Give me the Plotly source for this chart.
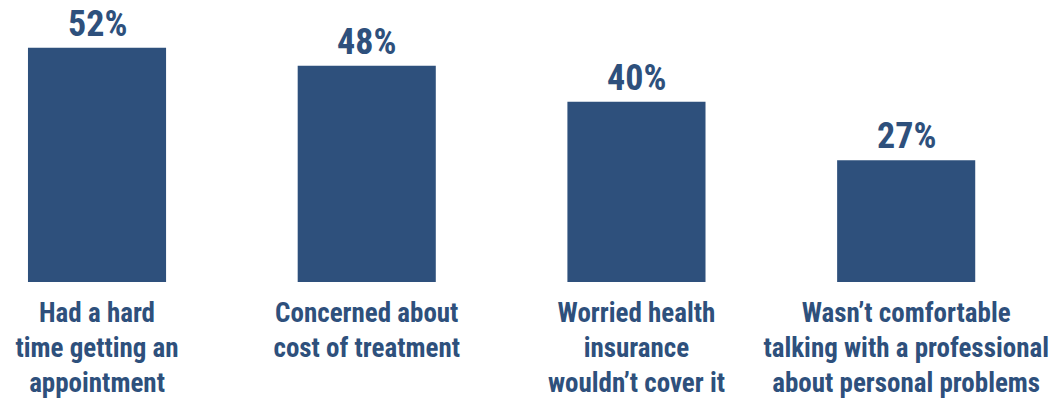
import plotly.graph_objects as go

# Survey results: reasons for not getting mental health care
categories = [
    "Had a hard<br>time getting an<br>appointment",
    "Concerned about<br>cost of treatment",
    "Worried health<br>insurance<br>wouldn’t cover it",
    "Wasn’t comfortable<br>talking with a professional<br>about personal problems",
]
values = [52, 48, 40, 27]
value_labels = [f"{v}%" for v in values]

BAR_COLOR = "#2e507c"
FONT = "Roboto Condensed, Liberation Sans Narrow, DejaVu Sans Condensed, sans-serif"

fig = go.Figure(
    go.Bar(
        x=categories,
        y=values,
        marker=dict(color=BAR_COLOR, line=dict(width=0)),
        width=0.512,
        hoverinfo="skip",
    )
)

for cat, v, lab in zip(categories, values, value_labels):
    fig.add_annotation(
        x=cat, y=v, text=f"<b>{lab}</b>", showarrow=False,
        yanchor="bottom", yshift=1,
        font=dict(family=FONT, size=36, color=BAR_COLOR),
    )

fig.update_layout(
    width=1061, height=399,
    margin=dict(l=0, r=0, t=0, b=115),
    plot_bgcolor="white", paper_bgcolor="white",
    showlegend=False,
    xaxis=dict(
        type="category", range=[-0.3597, 3.574],
        showgrid=False, zeroline=False, showline=False, ticks="",
        ticklabelstandoff=12,
        tickfont=dict(family=FONT, size=27, color=BAR_COLOR, weight="bold"),
    ),
    yaxis=dict(
        range=[0, 52 * 284 / 236], visible=False,
        showgrid=False, zeroline=False,
    ),
)

fig.write_html("out.html")
